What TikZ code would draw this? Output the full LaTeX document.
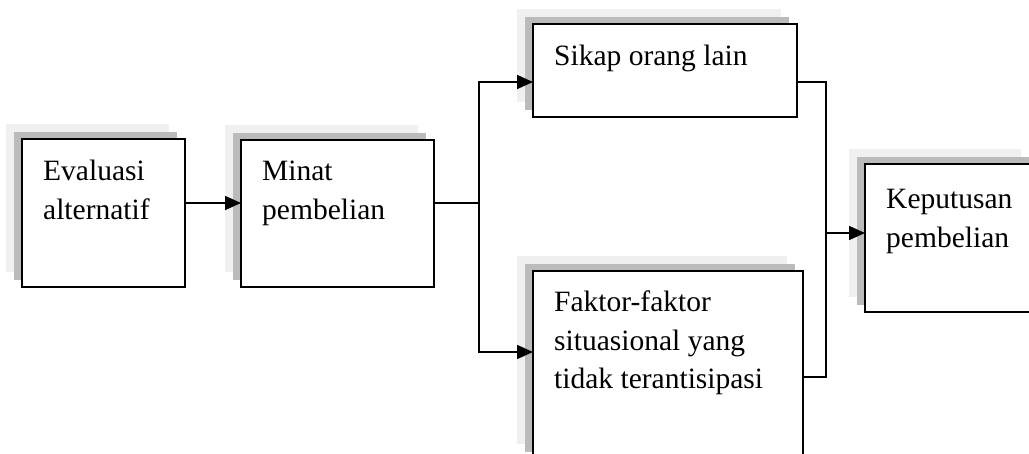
\documentclass[tikz,border=0pt]{standalone}
\usepackage{fontspec}
\setmainfont{Liberation Serif}
\usetikzlibrary{arrows.meta,shadows}
\definecolor{shlight}{RGB}{240,240,240}
\definecolor{shdark}{RGB}{187,187,187}
\begin{document}
\begin{tikzpicture}[x=1pt,y=-1pt,
  box/.style={draw=black, line width=1.6pt, fill=white, inner sep=0pt, outer sep=0pt,
    general shadow={fill=shlight, shadow xshift=-16pt, shadow yshift=15pt},
    general shadow={fill=shdark, shadow xshift=-8pt, shadow yshift=7pt}},
  txt/.style={anchor=north west, align=left, inner sep=0pt,
    font=\fontsize{29.5}{38.5}\selectfont},
  conn/.style={draw=black, line width=1.6pt},
  arr/.style={conn, -{Triangle[length=16pt,width=14pt]}}]
\useasboundingbox (0,0) rectangle (1029,454);
\clip (0,0) rectangle (1029,454);
% boxes
\node[box, minimum width=163pt, minimum height=148pt] (e1) at (103.5,213) {};
\node[box, minimum width=193pt, minimum height=147pt] (m1) at (337.5,213.5) {};
\node[box, minimum width=264pt, minimum height=93pt] (s1) at (665,70.5) {};
\node[box, minimum width=270pt, minimum height=188pt] (f1) at (668,365) {};
\node[box, minimum width=172pt, minimum height=148pt] (k1) at (951,238) {};
% texts
\node[txt] (t1) at ([xshift=21pt,yshift=-21pt]e1.north west) {Evaluasi\\alternatif};
\node[txt] (t2) at ([xshift=21pt,yshift=-21pt]m1.north west) {Minat\\pembelian};
\node[txt] (t3) at ([xshift=21pt,yshift=-21pt]s1.north west) {Sikap orang lain};
\node[txt] (t4) at ([xshift=21pt,yshift=-20pt]f1.north west) {Faktor-faktor\\situasional yang\\tidak terantisipasi};
\node[txt] (t5) at ([xshift=21pt,yshift=-25pt]k1.north west) {Keputusan\\pembelian};
% reference levels
\coordinate (ya) at (0,203);
\coordinate (ys) at (0,82);
\coordinate (yf) at (0,352);
\coordinate (yg) at (0,377);
\coordinate (fk) at (479,203);
\coordinate (jn) at (826,233);
% connectors
\draw[arr] (ya -| e1.east) -- (ya -| m1.west);
\draw[conn] (ya -| m1.east) -- (fk);
\draw[arr] (fk) |- (ys -| s1.west);
\draw[arr] (fk) |- (yf -| f1.west);
\draw[conn] (ys -| s1.east) -| (jn);
\draw[conn] (yg -| f1.east) -| (jn);
\draw[arr] (jn) -- (jn -| k1.west);
\end{tikzpicture}
\end{document}
